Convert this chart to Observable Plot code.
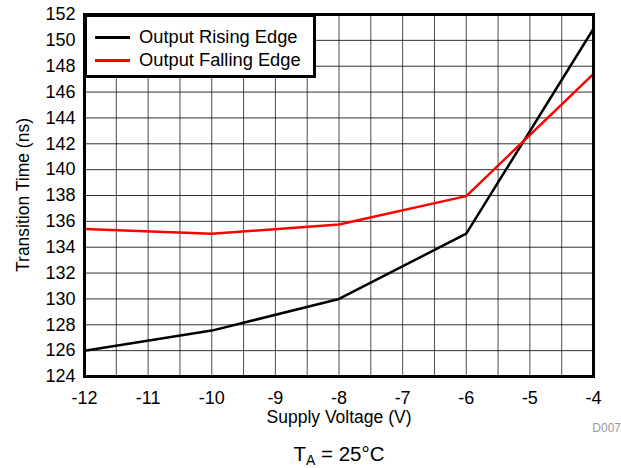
<!DOCTYPE html>
<html>
<head>
<meta charset="utf-8">
<script src="https://cdn.jsdelivr.net/npm/d3@7"></script>
<script src="https://cdn.jsdelivr.net/npm/@observablehq/plot@0.6"></script>
<style>
  html, body { margin: 0; padding: 0; background: #fff; }
  #wrap { position: relative; width: 621px; height: 468px; font-family: "Liberation Sans", Arial, Helvetica, sans-serif; }
  #legend { position: absolute; left: 84px; top: 14px; width: 226px; height: 58px; border: 3px solid #000; background: #fff; box-sizing: content-box; }
  .row { position: absolute; left: 8px; display: flex; align-items: center; font-size: 18.3px; color: #000; }
  .sw { width: 35px; height: 0; border-top: 3px solid #000; margin-right: 9px; }
</style>
</head>
<body>
<div id="wrap"></div>
<script>
const voltage = [-12, -10, -8, -6, -4];
const risingEdge = [126.0, 127.55, 130.0, 135.05, 150.9];
const fallingEdge = [135.4, 135.05, 135.75, 137.95, 147.4];
const seriesNames = ["Output Rising Edge", "Output Falling Edge"];
const seriesColors = ["#000000", "#ff0000"];
const xTicks = [-12, -11, -10, -9, -8, -7, -6, -5, -4];
const xGrid = [-11.5, -11, -10.5, -10, -9.5, -9, -8.5, -8, -7.5, -7, -6.5, -6, -5.5, -5, -4.5];
const yTicks = [124, 126, 128, 130, 132, 134, 136, 138, 140, 142, 144, 146, 148, 150, 152];
const yGrid = [126, 128, 130, 132, 134, 136, 138, 140, 142, 144, 146, 148, 150];

const data = [];
voltage.forEach((v, i) => {
  data.push({series: seriesNames[0], v, t: risingEdge[i]});
  data.push({series: seriesNames[1], v, t: fallingEdge[i]});
});

const font = '"Liberation Sans", Arial, Helvetica, sans-serif';

const plot = Plot.plot({
  width: 621,
  height: 468,
  marginLeft: 84,
  marginRight: 28,
  marginTop: 14,
  marginBottom: 92,
  style: {fontFamily: font, fontSize: "18px", color: "#000", background: "#fff"},
  x: {domain: [-12, -4], ticks: xTicks, tickSize: 0, tickPadding: 15, tickFormat: d => String(d), label: null},
  y: {domain: [124, 152], ticks: yTicks, tickSize: 0, tickPadding: 9, tickFormat: d => String(d), label: null},
  color: {domain: seriesNames, range: seriesColors},
  marks: [
    Plot.ruleX(xGrid, {stroke: "#000", strokeOpacity: 0.7, strokeWidth: 1}),
    Plot.ruleY(yGrid, {stroke: "#000", strokeOpacity: 0.8, strokeWidth: 1}),
    Plot.line(data, {x: "v", y: "t", z: "series", stroke: "series", strokeWidth: 2.5}),
    Plot.frame({stroke: "#000", strokeWidth: 3})
  ]
});

const wrap = document.getElementById("wrap");
wrap.appendChild(plot);

const svg = d3.select(plot);
svg.append("text")
  .attr("x", 339).attr("y", 423)
  .attr("text-anchor", "middle")
  .style("font-family", font).style("font-size", "17.5px").attr("fill", "#000")
  .text("Supply Voltage (V)");
svg.append("text")
  .attr("transform", "translate(29,195) rotate(-90)")
  .attr("text-anchor", "middle")
  .style("font-family", font).style("font-size", "17.5px").attr("fill", "#000")
  .text("Transition Time (ns)");
svg.append("text")
  .attr("x", 621).attr("y", 432)
  .attr("text-anchor", "end")
  .style("font-family", font).style("font-size", "12px").attr("fill", "#9a9a9a")
  .text("D007");
const cap = svg.append("text")
  .attr("x", 339).attr("y", 461)
  .attr("text-anchor", "middle")
  .style("font-family", font).style("font-size", "20.5px").attr("fill", "#000");
cap.append("tspan").text("T");
cap.append("tspan").attr("dy", 4).style("font-size", "14px").text("A");
cap.append("tspan").attr("dy", -4).text(" = 25°C");

const legend = document.createElement("div");
legend.id = "legend";
seriesNames.forEach((name, i) => {
  const row = document.createElement("div");
  row.className = "row";
  row.style.top = (i === 0 ? 9 : 32) + "px";
  const sw = document.createElement("div");
  sw.className = "sw";
  sw.style.borderTopColor = seriesColors[i];
  const label = document.createElement("span");
  label.textContent = name;
  row.appendChild(sw);
  row.appendChild(label);
  legend.appendChild(row);
});
wrap.appendChild(legend);
</script>
</body>
</html>
